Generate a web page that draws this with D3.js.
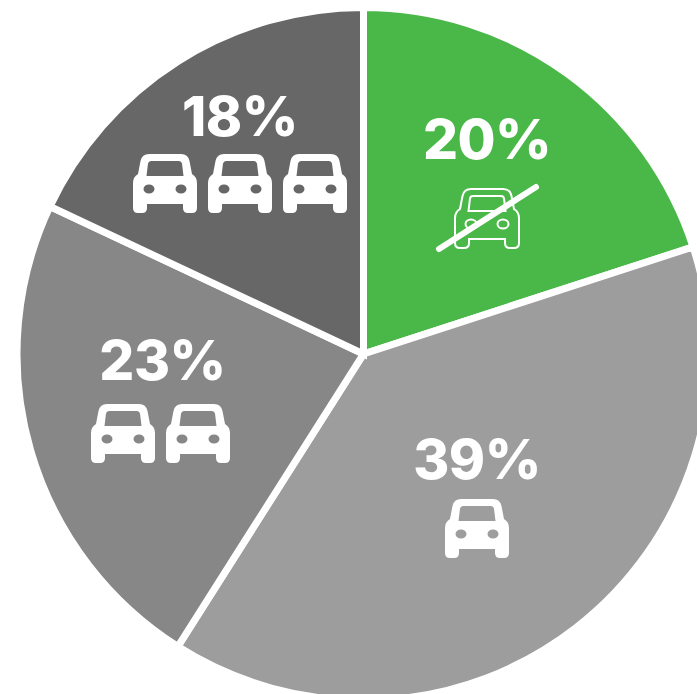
<!DOCTYPE html>
<html>
<head>
<meta charset="utf-8">
<script src="https://cdn.jsdelivr.net/npm/d3@7"></script>
<style>
  html, body { margin: 0; padding: 0; background: #fff; overflow: hidden; }
  text { font-family: Inter, "Open Sans", sans-serif; font-weight: 800; fill: #fff; }
</style>
</head>
<body>
<div id="plot"></div>
<script>
// Chart values
const labels = ["20%", "39%", "23%", "18%"];
const shares = [20, 39, 23, 18];
const carCounts = [1, 1, 2, 3];
const crossedOut = [true, false, false, false];

// Styling and layout, one entry per slice
const colors = ["#4ab848", "#9d9d9d", "#868786", "#666766"];
const labelPos = [[487, 159], [477, 479], [162.500, 380], [240, 136]];
const carPos = [[455, 189], [445, 499], [91, 404], [133, 154]];
const carStep = 75;

const width = 697;
const height = 694;
const cx = 363.5;
const cy = 354;
const radius = 346.5;

// Car icon drawn in a 64x59 box, holes are cut by evenodd
const carPath = "M16 0H48Q55 0 56.5 7L59 20Q64 23 64 29V54Q64 59 59 59H55Q50 59 50 54V50H14V54Q14 59 9 59H5Q0 59 0 54V29Q0 23 5 20L7.5 7Q9 0 16 0Z"
  + "M18 7Q15.500 7 15 9.500L13.500 22H50.500L49 9.500Q48.500 7 46 7Z"
  + "M10.500 35a5.500 4.500 0 1 0 11 0a5.500 4.500 0 1 0 -11 0Z"
  + "M42.500 35a5.500 4.500 0 1 0 11 0a5.500 4.500 0 1 0 -11 0Z";

const svg = d3.select("#plot")
  .append("svg")
  .attr("width", width)
  .attr("height", height);

const pie = d3.pie().sort(null).value(function(d) { return d; });
const arc = d3.arc().innerRadius(0).outerRadius(radius);

// Slices
svg.append("g")
  .attr("transform", "translate(" + cx + "," + cy + ")")
  .selectAll("path")
  .data(pie(shares))
  .enter()
  .append("path")
  .attr("d", arc)
  .attr("fill", function(d, i) { return colors[i]; })
  .attr("stroke", "#fff")
  .attr("stroke-width", 7)
  .attr("stroke-linejoin", "miter");

// Percent labels
svg.selectAll("text.pct")
  .data(labels)
  .enter()
  .append("text")
  .attr("class", "pct")
  .attr("text-anchor", "middle")
  .attr("x", function(d, i) { return labelPos[i][0]; })
  .attr("y", function(d, i) { return labelPos[i][1]; })
  .attr("font-size", 55)
  .attr("letter-spacing", -0.5)
  .text(function(d) { return d; });

// Car icons
carCounts.forEach(function(count, i) {
  d3.range(count).forEach(function(n) {
    const car = svg.append("path")
      .attr("d", carPath)
      .attr("transform", "translate(" + (carPos[i][0] + n * carStep) + "," + carPos[i][1] + ")");
    if (crossedOut[i]) {
      car.attr("fill", "none").attr("stroke", "#fff").attr("stroke-width", 2);
      svg.append("line")
        .attr("x1", carPos[i][0] - 16)
        .attr("y1", carPos[i][1] + 60)
        .attr("x2", carPos[i][0] + 81)
        .attr("y2", carPos[i][1] - 2)
        .attr("stroke", "#fff")
        .attr("stroke-width", 6)
        .attr("stroke-linecap", "round");
    } else {
      car.attr("fill", "#fff").attr("fill-rule", "evenodd");
    }
  });
});
</script>
</body>
</html>
